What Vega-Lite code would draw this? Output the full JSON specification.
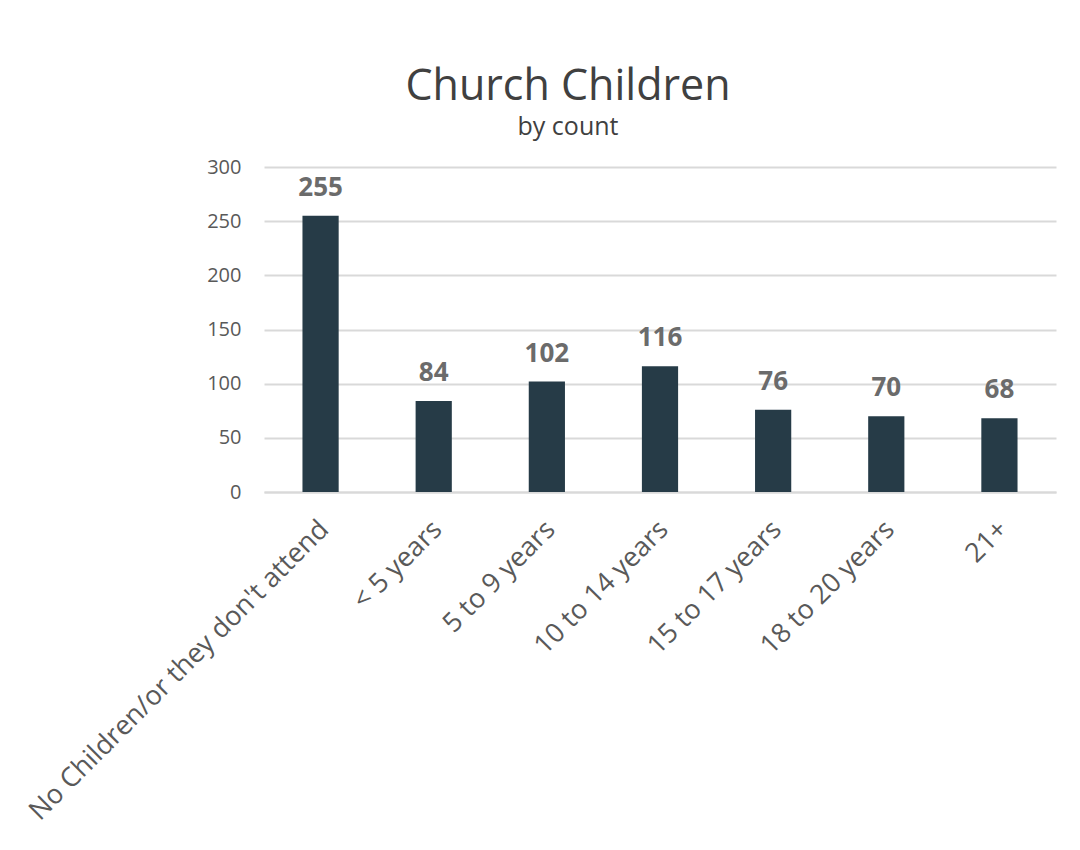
{
  "$schema": "https://vega.github.io/schema/vega-lite/v6.json",
  "autosize": {"type": "none"},
  "width": 792,
  "height": 325,
  "padding": {"left": 264, "top": 167, "right": 24, "bottom": 358},
  "background": "white",
  "config": {
    "font": "Open Sans",
    "view": {"stroke": null}
  },
  "title": {
    "text": "Church Children",
    "subtitle": "by count",
    "font": "Open Sans",
    "fontSize": 43,
    "fontWeight": "normal",
    "color": "#404040",
    "subtitleFont": "Open Sans",
    "subtitleFontSize": 25,
    "subtitleColor": "#404040",
    "subtitlePadding": 6,
    "anchor": "middle",
    "frame": "group",
    "dx": -92,
    "offset": 17
  },
  "data": {
    "values": [
      {"category": "No Children/or they don't attend", "count": 255},
      {"category": "< 5 years", "count": 84},
      {"category": "5 to 9 years", "count": 102},
      {"category": "10 to 14 years", "count": 116},
      {"category": "15 to 17 years", "count": 76},
      {"category": "18 to 20 years", "count": 70},
      {"category": "21+", "count": 68}
    ]
  },
  "encoding": {
    "x": {
      "field": "category",
      "type": "nominal",
      "sort": null,
      "title": null,
      "scale": {"paddingInner": 0.68, "paddingOuter": 0.34},
      "axis": {
        "labelAngle": -45,
        "labelAlign": "right",
        "labelBaseline": "middle",
        "labelFontSize": 27,
        "labelColor": "#595959",
        "labelPadding": 33,
        "labelOffset": 4,
        "ticks": false,
        "domain": true,
        "domainColor": "#d9d9d9",
        "domainWidth": 2,
        "labelLimit": 700
      }
    },
    "y": {
      "field": "count",
      "type": "quantitative",
      "title": null,
      "scale": {"domain": [0, 300]},
      "axis": {
        "values": [0, 50, 100, 150, 200, 250, 300],
        "labelFontSize": 20,
        "labelColor": "#595959",
        "labelPadding": 23,
        "ticks": false,
        "domain": false,
        "gridColor": "#d9d9d9",
        "gridWidth": 2
      }
    }
  },
  "layer": [
    {"mark": {"type": "bar", "color": "#263b47"}},
    {
      "mark": {
        "type": "text",
        "dy": -20,
        "baseline": "alphabetic",
        "fontSize": 26,
        "fontWeight": "bold",
        "color": "#6b6b6b"
      },
      "encoding": {"text": {"field": "count", "type": "quantitative"}}
    }
  ]
}
